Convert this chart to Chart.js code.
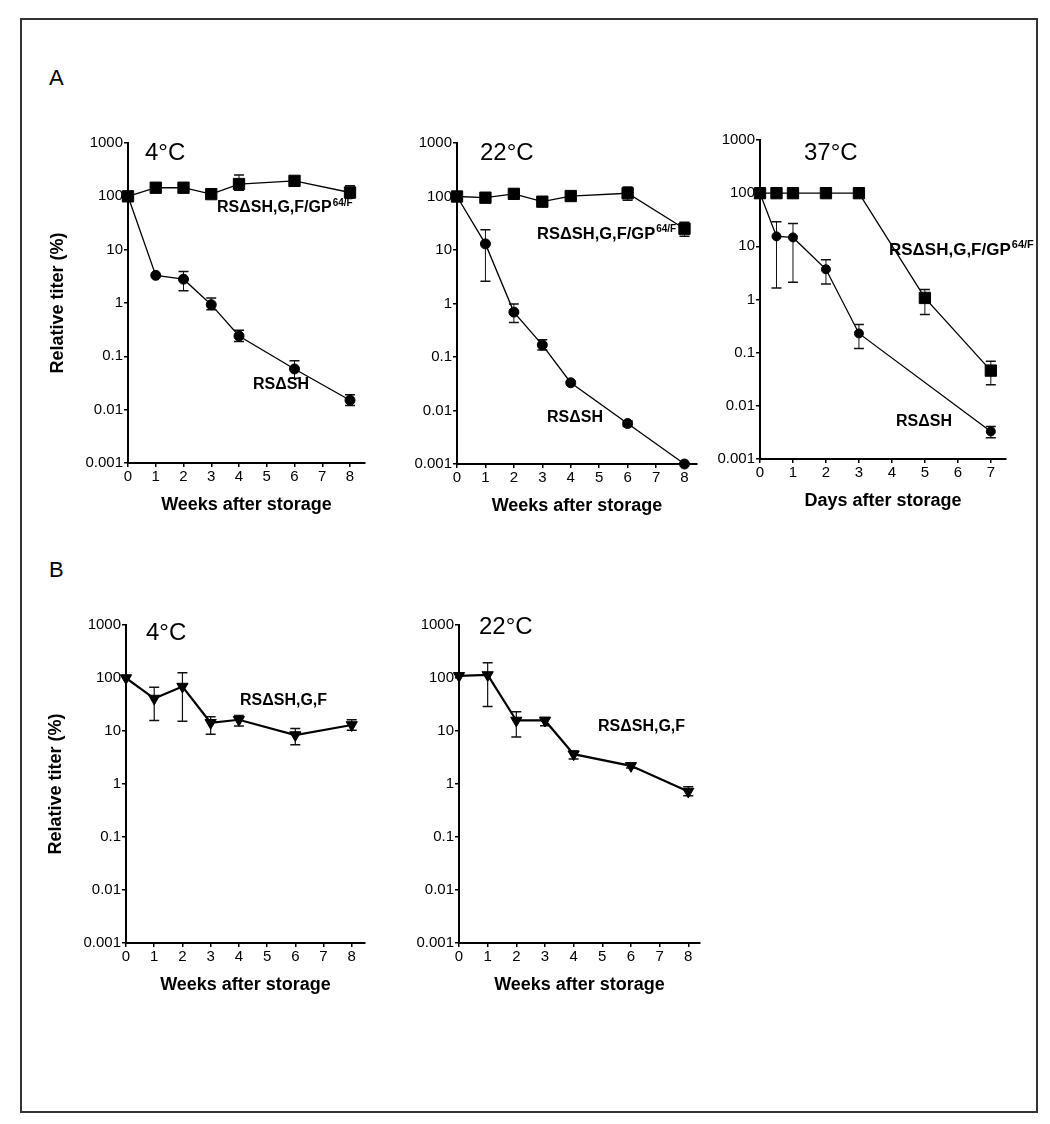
<!DOCTYPE html>
<html>
<head>
<meta charset="utf-8">
<script src="https://cdn.jsdelivr.net/npm/chart.js@4.4.1/dist/chart.umd.min.js"></script>
<style>
  body { margin: 0; background: #fff; }
  #page { position: relative; width: 1050px; height: 1124px; font-family: "Liberation Sans", Arial, sans-serif; }
  #frame { position: absolute; left: 20px; top: 18px; width: 1018px; height: 1095px; border: 2px solid #333; box-sizing: border-box; }
  .tag { position: absolute; font-size: 22px; color: #000; }
  canvas { position: absolute; }
</style>
</head>
<body>
<div id="page">
  <div id="frame"></div>
  <div class="tag" style="left:49px;top:65px">A</div>
  <div class="tag" style="left:49px;top:557px">B</div>
  <canvas id="a4"></canvas>
  <canvas id="a22"></canvas>
  <canvas id="a37"></canvas>
  <canvas id="b4"></canvas>
  <canvas id="b22"></canvas>
</div>
<script>
// axis ticks
const yTicks = [0.001, 0.01, 0.1, 1, 10, 100, 1000];
const yTickLabels = ['0.001', '0.01', '0.1', '1', '10', '100', '1000'];
const weekTicks = [0, 1, 2, 3, 4, 5, 6, 7, 8];
const dayTicks = [0, 1, 2, 3, 4, 5, 6, 7];

// A, 4 C (weeks)
const weeks = [0, 1, 2, 3, 4, 6, 8];
const a4Gp = [100, 145, 145, 110, 170, 195, 118];
const a4GpLo = [null, null, null, null, 130, null, 93];
const a4GpHi = [null, null, null, null, 250, null, 158];
const a4Sh = [100, 3.3, 2.8, 0.93, 0.24, 0.058, 0.015];
const a4ShLo = [null, null, 1.7, 0.75, 0.19, 0.039, 0.012];
const a4ShHi = [null, null, 3.9, 1.24, 0.31, 0.083, 0.019];

// A, 22 C (weeks)
const a22Gp = [100, 95, 112, 80, 102, 115, 25];
const a22GpLo = [null, null, 92, null, null, 85, 18];
const a22GpHi = [null, null, 135, null, null, 150, 33];
const a22Sh = [100, 13, 0.69, 0.168, 0.033, 0.0057, 0.001];
const a22ShLo = [null, 2.6, 0.44, 0.135, null, 0.005, null];
const a22ShHi = [null, 24, 0.98, 0.21, null, 0.0064, null];

// A, 37 C (days)
const a37GpDays = [0, 0.5, 1, 2, 3, 5, 7];
const a37Gp = [100, 100, 100, 100, 100, 1.07, 0.046];
const a37GpLo = [null, null, null, null, null, 0.52, 0.025];
const a37GpHi = [null, null, null, null, null, 1.54, 0.069];
const a37ShDays = [0, 0.5, 1, 2, 3, 7];
const a37Sh = [100, 15.4, 14.7, 3.7, 0.23, 0.0033];
const a37ShLo = [null, 1.65, 2.1, 1.95, 0.12, 0.0025];
const a37ShHi = [null, 29, 27, 5.6, 0.34, 0.0041];

// B, RSdSH,G,F (weeks)
const b4 = [100, 41, 69, 14.3, 16.3, 8.4, 13];
const b4Lo = [null, 15.8, 15.2, 8.7, 12.4, 5.5, 10.3];
const b4Hi = [null, 67, 125, 18.6, 19.7, 11.2, 16.3];
const b22 = [110, 114, 15.8, 15.8, 3.65, 2.2, 0.72];
const b22Lo = [null, 29, 7.7, 12.5, 2.95, 2.0, 0.6];
const b22Hi = [null, 195, 23, 18, 4.2, 2.4, 0.89];

const FONT = '"Liberation Sans", Arial, sans-serif';
Chart.defaults.font.family = FONT;
Chart.defaults.color = '#000';

// vertical error bars with caps, drawn under the markers
const errorBars = {
    id: 'errorBars',
    beforeDatasetsDraw(chart) {
        const ctx = chart.ctx;
        const ys = chart.scales.y;
        chart.data.datasets.forEach((ds, di) => {
            if (!ds.lo) return;
            const meta = chart.getDatasetMeta(di);
            meta.data.forEach((pt, i) => {
                if (ds.lo[i] == null) return;
                const yl = ys.getPixelForValue(ds.lo[i]);
                const yh = ys.getPixelForValue(ds.hi[i]);
                ctx.save();
                ctx.strokeStyle = '#111';
                ctx.lineWidth = ds.stem;
                ctx.beginPath();
                ctx.moveTo(pt.x, yl);
                ctx.lineTo(pt.x, yh);
                ctx.stroke();
                ctx.lineWidth = 1.5;
                ctx.beginPath();
                ctx.moveTo(pt.x - 5, yl); ctx.lineTo(pt.x + 5, yl);
                ctx.moveTo(pt.x - 5, yh); ctx.lineTo(pt.x + 5, yh);
                ctx.stroke();
                ctx.restore();
            });
        });
    }
};

function notesPlugin(notes) {
    return {
        id: 'notes',
        afterDraw(chart) {
            const ctx = chart.ctx;
            const a = chart.chartArea;
            notes.forEach(n => {
                ctx.save();
                ctx.fillStyle = '#000';
                ctx.textBaseline = 'middle';
                ctx.textAlign = 'left';
                ctx.font = (n.bold ? 'bold ' : '') + n.size + 'px ' + FONT;
                const x = a.left + n.dx, y = a.top + n.dy;
                ctx.fillText(n.text, x, y);
                if (n.sup) {
                    const w = ctx.measureText(n.text).width;
                    ctx.font = (n.bold ? 'bold ' : '') + Math.round(n.size * 0.62) + 'px ' + FONT;
                    ctx.fillText(n.sup, x + w + 1, y - n.size * 0.28);
                }
                ctx.restore();
            });
        }
    };
}

function series(xs, ys, lo, hi, style) {
    return Object.assign({
        data: xs.map((x, i) => ({ x: x, y: ys[i] })),
        lo: lo, hi: hi,
        borderColor: '#000',
        pointBackgroundColor: '#000',
        pointBorderColor: '#000',
        pointBorderWidth: 1,
        tension: 0,
        clip: false
    }, style);
}

const square = { pointStyle: 'rect', pointRadius: 8, borderWidth: 1.3, stem: 1 };
const dot = { pointStyle: 'circle', pointRadius: 5, borderWidth: 1.3, stem: 1 };
const smallDot = { pointStyle: 'circle', pointRadius: 4.5, borderWidth: 1.3, stem: 1 };
const triDown = { pointStyle: 'triangle', pointRotation: 180, pointRadius: 6.5, borderWidth: 2.2, stem: 1.2 };

function makePanel(id, area, xMax, xTickVals, xTitle, yTitle, datasets, notes) {
    const padTop = 25, padBottom = 5, yW = 88, xH = 60;
    const padRight = area.padR;
    const canvas = document.getElementById(id);
    const w = area.R - area.L + yW + padRight;
    const h = area.B - area.T + padTop + xH + padBottom;
    canvas.width = w;
    canvas.height = h;
    canvas.style.left = (area.L - yW) + 'px';
    canvas.style.top = (area.T - padTop) + 'px';
    canvas.style.width = w + 'px';
    canvas.style.height = h + 'px';

    return new Chart(canvas, {
        type: 'line',
        data: { datasets: datasets },
        plugins: [errorBars, notesPlugin(notes)],
        options: {
            responsive: false,
            animation: false,
            events: [],
            layout: { padding: { top: padTop, right: padRight, bottom: padBottom, left: 0 } },
            plugins: { legend: { display: false }, tooltip: { enabled: false } },
            scales: {
                x: {
                    type: 'linear',
                    min: 0,
                    max: xMax,
                    afterFit: s => { s.height = xH; },
                    afterBuildTicks: s => { s.ticks = xTickVals.map(v => ({ value: v })); },
                    ticks: { color: '#000', font: { size: 15 }, padding: 1, maxRotation: 0, autoSkip: false },
                    grid: { display: true, drawOnChartArea: false, drawTicks: true, tickLength: 4, color: '#000', lineWidth: 1.5 },
                    border: { display: true, color: '#000', width: 2 },
                    title: { display: true, text: xTitle, color: '#000', font: { size: 18, weight: 'bold' }, padding: { top: 0, bottom: 7 } }
                },
                y: {
                    type: 'logarithmic',
                    min: 0.001,
                    max: 1000,
                    afterFit: s => { s.width = yW; },
                    afterBuildTicks: s => { s.ticks = yTicks.map(v => ({ value: v })); },
                    ticks: {
                        color: '#000',
                        font: { size: 15 },
                        padding: 1,
                        autoSkip: false,
                        callback: v => yTickLabels[Math.round(Math.log10(v)) + 3]
                    },
                    grid: { display: true, drawOnChartArea: false, drawTicks: true, tickLength: 4, color: '#000', lineWidth: 1.5 },
                    border: { display: true, color: '#000', width: 2 },
                    title: { display: !!yTitle, text: yTitle, color: '#000', font: { size: 18, weight: 'bold' }, padding: { top: 7, bottom: 0 } }
                }
            }
        }
    });
}

const GP = 'RSΔSH,G,F/GP';
const GPSUP = '64/F';
const SH = 'RSΔSH';
const SHGF = 'RSΔSH,G,F';
const YT = 'Relative titer (%)';
const WK = 'Weeks after storage';

makePanel('a4', { L: 128, T: 143, R: 365, B: 463, padR: 12 }, 8.54, weekTicks, WK, YT, [
    series(weeks, a4Gp, a4GpLo, a4GpHi, square),
    series(weeks, a4Sh, a4ShLo, a4ShHi, dot)
], [
    { text: '4°C', size: 24, dx: 17, dy: 10 },
    { text: GP, sup: GPSUP, bold: true, size: 16, dx: 89, dy: 65 },
    { text: SH, bold: true, size: 16, dx: 125, dy: 242 }
]);

makePanel('a22', { L: 457, T: 143, R: 700, B: 464, padR: 6 }, 8.44, weekTicks, WK, '', [
    series(weeks, a22Gp, a22GpLo, a22GpHi, square),
    series(weeks, a22Sh, a22ShLo, a22ShHi, dot)
], [
    { text: '22°C', size: 24, dx: 23, dy: 10 },
    { text: GP, sup: GPSUP, bold: true, size: 16.5, dx: 80, dy: 91 },
    { text: SH, bold: true, size: 16, dx: 90, dy: 275 }
]);

makePanel('a37', { L: 760, T: 140, R: 1006, B: 459, padR: 32 }, 7.46, dayTicks, 'Days after storage', '', [
    series(a37GpDays, a37Gp, a37GpLo, a37GpHi, square),
    series(a37ShDays, a37Sh, a37ShLo, a37ShHi, smallDot)
], [
    { text: '37°C', size: 24, dx: 44, dy: 13 },
    { text: GP, sup: GPSUP, bold: true, size: 17, dx: 129, dy: 110 },
    { text: SH, bold: true, size: 16, dx: 136, dy: 282 }
]);

makePanel('b4', { L: 126, T: 625, R: 365, B: 943, padR: 10 }, 8.47, weekTicks, WK, YT, [
    series(weeks, b4, b4Lo, b4Hi, triDown)
], [
    { text: '4°C', size: 24, dx: 20, dy: 8 },
    { text: SHGF, bold: true, size: 16, dx: 114, dy: 76 }
]);

makePanel('b22', { L: 459, T: 625, R: 700, B: 943, padR: 10 }, 8.41, weekTicks, WK, '', [
    series(weeks, b22, b22Lo, b22Hi, triDown)
], [
    { text: '22°C', size: 24, dx: 20, dy: 2 },
    { text: SHGF, bold: true, size: 16, dx: 139, dy: 102 }
]);
</script>
</body>
</html>
